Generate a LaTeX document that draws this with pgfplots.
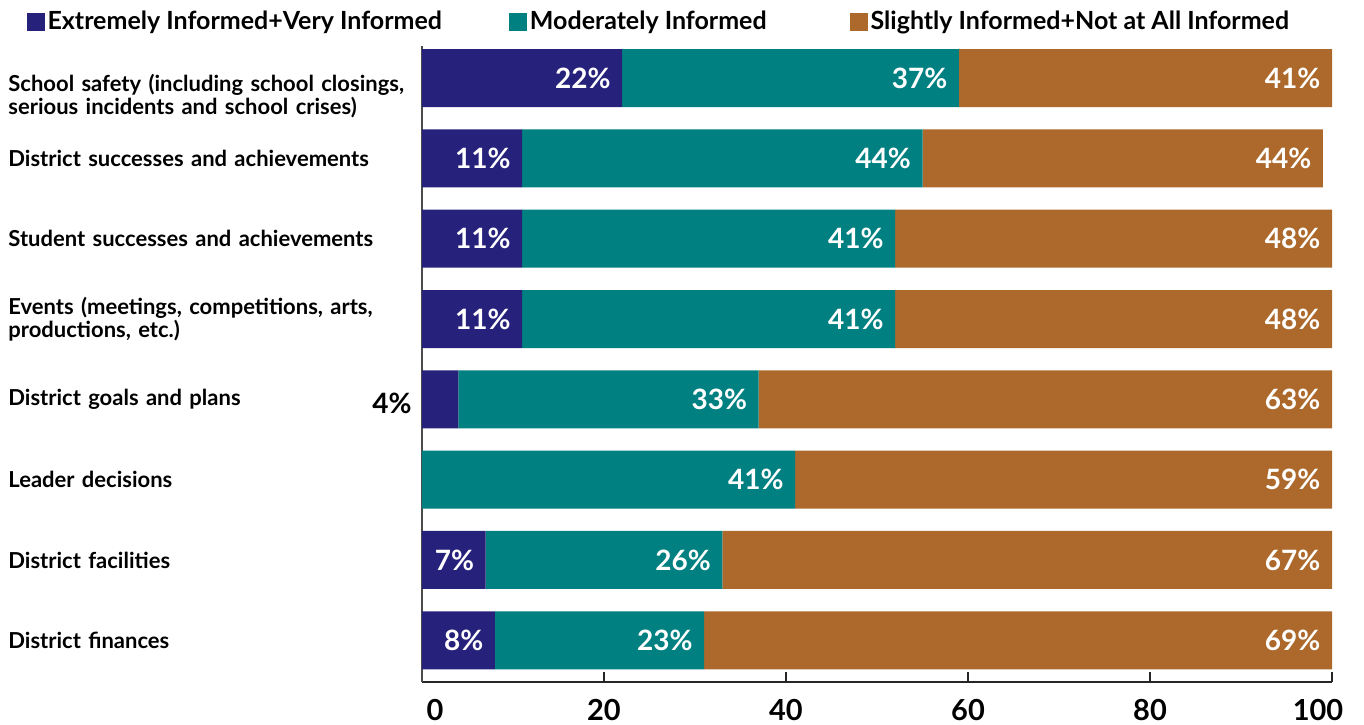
\documentclass[border=0pt]{standalone}
\usepackage{fontspec}
\setmainfont{Lato}
\usepackage{pgfplots}
\pgfplotsset{compat=1.18}
\usepackage{pgfplotstable}
\definecolor{cblue}{HTML}{26217A}
\definecolor{cteal}{HTML}{008080}
\definecolor{cbrown}{HTML}{AC692B}
\pgfplotstableread{
y a am b c
0 22 22 37 41
1 11 11 44 44
2 11 11 41 48
3 11 11 41 48
4 4 -1 33 63
5 0 -1 41 59
6 7 7 26 67
7 8 8 23 69
}\data
\newcommand\seglabel{%
  \pgfmathfloattofixed{\pgfplotspointmeta}\edef\segv{\pgfmathresult}%
  \ifdim\segv pt<0pt\else
    \pgfmathsetlengthmacro\segD{2.275*\segv-6}%
    \hspace*{\segD}\llap{\pgfmathprintnumber{\pgfplotspointmeta}\%}%
  \fi}
\begin{document}
\begin{tikzpicture}
\begin{axis}[
  name=ax,
  scale only axis,
  width=455pt, height=318pt,
  xbar stacked, bar width=29pt,
  xmin=0, xmax=100, ymin=-0.4, ymax=7.52,
  y dir=reverse,
  axis lines*=left,
  x axis line style={line width=1pt, black!85},
  y axis line style={line width=0.7pt, black!70},
  xtick={0,20,40,60,80,100},
  xticklabels={\makebox[0pt]{\hspace*{13pt}0},20,40,60,80,\makebox[0pt]{\hspace*{-14pt}100}},
  tick align=inside, major tick length=5pt,
  x tick style={line width=0.8pt, black!85},
  xticklabel style={font=\bfseries\fontsize{14.5}{14.5}\selectfont, inner sep=0pt, yshift=-8.5pt, anchor=north},
  /pgf/number format/assume math mode=true,
  ytick={1,...,7},
  y tick style={draw=none},
  yticklabels={
    District successes and achievements,
    Student successes and achievements,
    {Events (meetings{,} competitions{,} arts{,}\\productions{,} etc.)},
    District goals and plans,
    Leader decisions,
    District facilities,
    District finances},
  extra y ticks={0},
  extra y tick labels={{School safety (including school closings{,}\\serious incidents and school crises)}},
  extra y tick style={y tick style={draw=none}, yticklabel style={yshift=-9pt}},
  yticklabel style={anchor=west, xshift=-207pt, inner sep=0pt, align=left, text width=210pt, font=\bfseries\fontsize{11}{11.5}\selectfont},
  clip=false,
  nodes near coords={\seglabel},
  nodes near coords style={anchor=west, text=white, font=\bfseries\fontsize{14}{14}\selectfont, inner sep=0pt, minimum width=0pt},
  point meta=explicit,
  legend columns=3,
  legend style={at={(-0.434,1.038)}, anchor=west, draw=none, fill=none, inner sep=0pt, outer sep=0pt,
    font=\bfseries\fontsize{12.5}{14}\selectfont,
    nodes={inner sep=1.25pt},
    /tikz/every even column/.append style={column sep=32.5pt}},
  legend image code/.code={\fill[#1] (0pt,-4.5pt) rectangle (9pt,4.5pt);},
]
\addplot[fill=cblue, draw=none] table[x=a, y=y, meta=am] {\data};
\addlegendentry{Extremely Informed+Very Informed}
\addplot[fill=cteal, draw=none] table[x=b, y=y, meta=b] {\data};
\addlegendentry{Moderately Informed\hspace*{8pt}}
\addplot[fill=cbrown, draw=none] table[x=c, y=y, meta=c] {\data};
\addlegendentry{Slightly Informed+Not at All Informed}
\node[anchor=east, xshift=-5pt, yshift=-2pt, font=\bfseries\fontsize{14}{14}\selectfont, inner sep=0pt] at (axis cs:0,4) {4\%};
\end{axis}
\path ([xshift=-211pt,yshift=-21pt]ax.south west) rectangle ([xshift=16pt,yshift=23pt]ax.north east);
\end{tikzpicture}
\end{document}
